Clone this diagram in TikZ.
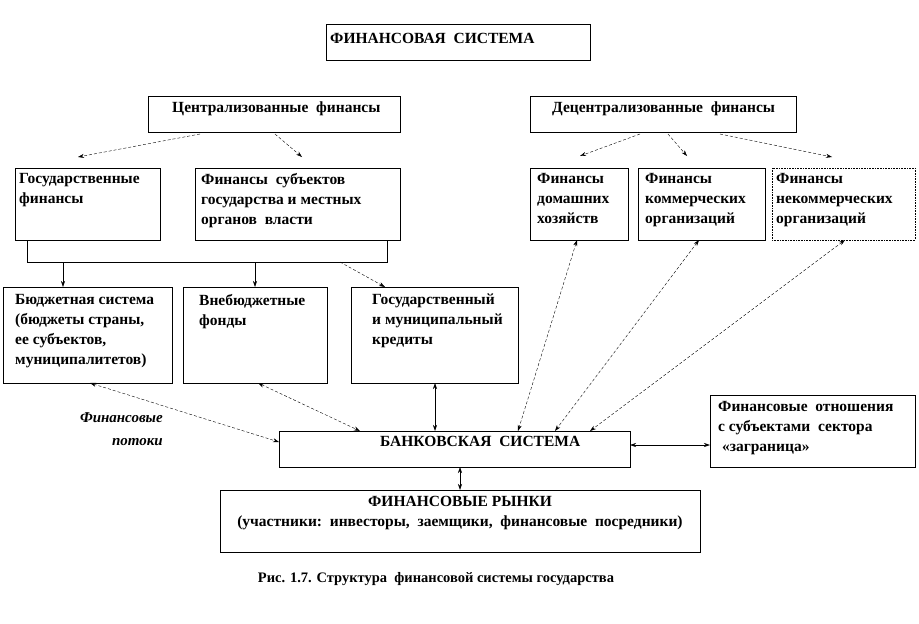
\documentclass[tikz,border=0pt]{standalone}
\usepackage{fontspec}
\setmainfont{Liberation Serif}
\usetikzlibrary{arrows.meta}
\begin{document}
\begin{tikzpicture}[x=1pt,y=-1pt,
  bx/.style={draw,line width=0.6pt},
  tx/.style={anchor=north west,align=left,inner sep=0pt,font=\fontsize{15.5}{20}\selectfont\bfseries},
  ar/.style={-{Stealth[length=6pt,width=4pt]},densely dashed,line width=0.4pt},
  dar/.style={{Stealth[length=6pt,width=4pt]}-{Stealth[length=6pt,width=4pt]},densely dashed,line width=0.4pt},
  sar/.style={{Stealth[length=6pt,width=4pt]}-{Stealth[length=6pt,width=4pt]},line width=0.6pt},
  par/.style={-{Stealth[length=6pt,width=4pt]},line width=0.6pt}]
\useasboundingbox (0,0) rectangle (919,624);
\draw[bx] (326,24) rectangle (590,60); \node[tx] (t0) at (330,33) {ФИНАНСОВАЯ\ \ СИСТЕМА};
\draw[bx] (148,96) rectangle (400,132); \node[tx] (t1) at (172,102) {Централизованные\ \ финансы};
\draw[bx] (530,96) rectangle (796,132); \node[tx] (t2) at (552,102) {Децентрализованные\ \ финансы};
\draw[bx] (15,168) rectangle (160,240); \node[tx] (t3) at (19,173) {Государственные\\финансы};
\draw[bx] (195,168) rectangle (400,240); \node[tx] (t4) at (201,173) {Финансы\ \ субъектов\\государства и местных\\органов\ \ власти};
\draw[bx] (530,168) rectangle (628,240); \node[tx] (t5) at (537,173) {Финансы\\домашних\\хозяйств};
\draw[bx] (638,168) rectangle (765,240); \node[tx] (t6) at (645,173) {Финансы\\коммерческих\\организаций};
\draw[bx,densely dotted] (772,168) rectangle (915,240); \node[tx] (t7) at (776,173) {Финансы\\некоммерческих\\организаций};
\draw[line width=0.6pt] (27,240) -- (27,262) -- (387,262) -- (387,240);
\draw[bx] (3,287) rectangle (172,383); \node[tx] (t8) at (15,294) {Бюджетная система\\(бюджеты страны,\\ее субъектов,\\муниципалитетов)};
\draw[bx] (183,287) rectangle (327,383); \node[tx] (t9) at (199,294) {Внебюджетные\\фонды};
\draw[bx] (351,287) rectangle (518,383); \node[tx] (t10) at (372,294) {Государственный\\и муниципальный\\кредиты};
\draw[bx] (279,431) rectangle (630,467); \node[tx] (t11) at (380,436) {БАНКОВСКАЯ\ \ СИСТЕМА};
\draw[bx] (710,395) rectangle (915,467); \node[tx] (t12) at (718,401) {Финансовые\ \ отношения\\с субъектами\ \ сектора\\\ «заграница»};
\draw[bx] (220,490) rectangle (700,552); \node[tx,align=center,anchor=north] (t13) at (460,496) {ФИНАНСОВЫЕ РЫНКИ\\(участники:\ \ инвесторы,\ \ заемщики,\ \ финансовые\ \ посредники)};
\node[anchor=north east,align=right,inner sep=0pt,font=\fontsize{15}{23}\selectfont\bfseries\itshape] (fp) at (163,412) {Финансовые\\потоки};
\node[inner sep=0pt,font=\fontsize{14.5}{17}\selectfont\bfseries] (cap) at (436,579) {Рис. 1.7. Структура\ \ финансовой системы государства};
\coordinate (c1) at (200,134); \coordinate (c1e) at (78,157);
\coordinate (c2) at (275,134); \coordinate (c2e) at (302,157);
\draw[ar] (c1) -- (c1e); \draw[ar] (c2) -- (c2e);
\coordinate (d1) at (640,134); \coordinate (d1e) at (580,156);
\coordinate (d2) at (668,134); \coordinate (d2e) at (687,156);
\coordinate (d3) at (720,134); \coordinate (d3e) at (832,157);
\draw[ar] (d1) -- (d1e); \draw[ar] (d2) -- (d2e); \draw[ar] (d3) -- (d3e);
\coordinate (b1) at (63,262); \coordinate (b1e) at (63,287);
\coordinate (b2) at (255,262); \coordinate (b2e) at (255,287);
\coordinate (b3) at (340,262); \coordinate (b3e) at (385,287);
\draw[par] (b1) -- (b1e); \draw[par] (b2) -- (b2e); \draw[ar] (b3) -- (b3e);
\draw[dar] (90,383) -- (279,442);
\draw[dar] (258,383) -- (360,431);
\draw[sar] (435,383) -- (435,431);
\draw[dar] (577,240) -- (518,431);
\draw[dar] (699,240) -- (555,431);
\draw[dar] (845,240) -- (590,431);
\draw[sar] (630,445) -- (710,445);
\draw[sar] (460,467) -- (460,490);
\end{tikzpicture}
\end{document}
